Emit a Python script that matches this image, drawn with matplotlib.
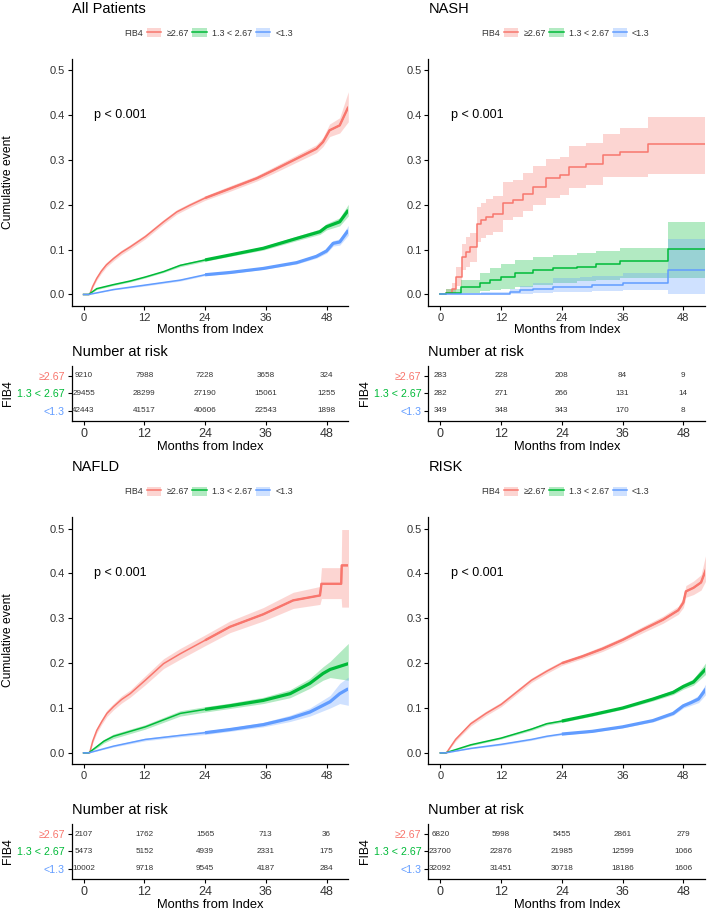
import numpy as np
import matplotlib
matplotlib.use("Agg")
import matplotlib.pyplot as plt
from matplotlib.patches import Patch
from matplotlib.lines import Line2D

plt.rcParams['font.family'] = ['Liberation Sans', 'DejaVu Sans']

# ---------------- data ----------------
groups = ["\u22652.67", "1.3 < 2.67", "<1.3"]
colors = ["#F8766D", "#00BA38", "#619CFF"]
risk_times = [0, 12, 24, 36, 48]
x_ticks = [0, 12, 24, 36, 48]
y_ticks = [0.0, 0.1, 0.2, 0.3, 0.4, 0.5]

# All Patients
all_hi_t = [0, 1.2, 1.8, 2.6, 3.5, 4.5, 5.9, 7.5, 9.2, 12.2, 15.8, 18.4, 21, 24, 28.9, 34.2, 37.5, 42.1, 46, 47.3, 48.6, 50.6, 52.3]
all_hi_v = [0, 0, 0.018, 0.036, 0.052, 0.066, 0.080, 0.094, 0.106, 0.129, 0.162, 0.184, 0.199, 0.215, 0.236, 0.259, 0.277, 0.303, 0.325, 0.340, 0.366, 0.377, 0.418]
all_hi_lo = [0, 0, 0.015, 0.032, 0.047, 0.061, 0.075, 0.089, 0.101, 0.124, 0.157, 0.179, 0.194, 0.210, 0.230, 0.253, 0.270, 0.295, 0.316, 0.330, 0.352, 0.360, 0.385]
all_hi_up = [0, 0, 0.021, 0.040, 0.057, 0.071, 0.085, 0.099, 0.111, 0.134, 0.167, 0.189, 0.204, 0.220, 0.242, 0.265, 0.284, 0.311, 0.334, 0.350, 0.380, 0.394, 0.452]
all_mid_t = [0, 1, 2.6, 5.9, 9.2, 12.2, 15.8, 19.1, 24, 28.9, 35.5, 42.1, 46.7, 48, 50.6, 52.3]
all_mid_v = [0, 0, 0.013, 0.022, 0.030, 0.039, 0.051, 0.065, 0.077, 0.088, 0.103, 0.125, 0.140, 0.151, 0.162, 0.188]
all_mid_lo = [0, 0, 0.011, 0.020, 0.028, 0.037, 0.049, 0.062, 0.074, 0.085, 0.099, 0.120, 0.134, 0.144, 0.153, 0.175]
all_mid_up = [0, 0, 0.015, 0.024, 0.032, 0.041, 0.053, 0.068, 0.080, 0.091, 0.107, 0.130, 0.146, 0.158, 0.171, 0.201]
all_lo_t = [0, 1, 5.9, 12.2, 19.1, 24, 28.9, 35.5, 42.1, 46, 48, 49.3, 50.6, 52.3]
all_lo_v = [0, 0, 0.011, 0.021, 0.032, 0.044, 0.049, 0.058, 0.071, 0.085, 0.097, 0.114, 0.117, 0.143]
all_lo_lo = [0, 0, 0.010, 0.019, 0.030, 0.042, 0.047, 0.056, 0.068, 0.081, 0.092, 0.108, 0.110, 0.132]
all_lo_up = [0, 0, 0.012, 0.023, 0.034, 0.046, 0.051, 0.060, 0.074, 0.089, 0.102, 0.120, 0.124, 0.154]
all_risk = [[9210, 7988, 7228, 3658, 324],
            [29455, 28299, 27190, 15061, 1255],
            [42443, 41517, 40606, 22543, 1898]]

# NASH (step curves)
nash_hi_t = [0, 1.2, 2.2, 3.0, 4.2, 5.0, 5.8, 7.2, 8.0, 9.1, 10.4, 12.4, 14.4, 16.3, 18.3, 20.9, 23.6, 25.5, 28.8, 32.1, 35.4, 41.0, 52.3]
nash_hi_v = [0, 0.004, 0.012, 0.040, 0.084, 0.095, 0.106, 0.158, 0.165, 0.173, 0.180, 0.204, 0.210, 0.224, 0.240, 0.259, 0.266, 0.285, 0.292, 0.311, 0.318, 0.336, 0.336]
nash_hi_lo = [0, 0, 0.002, 0.020, 0.054, 0.062, 0.072, 0.118, 0.125, 0.133, 0.140, 0.166, 0.172, 0.186, 0.200, 0.215, 0.222, 0.238, 0.245, 0.262, 0.262, 0.268, 0.268]
nash_hi_up = [0, 0.012, 0.025, 0.062, 0.112, 0.128, 0.138, 0.195, 0.203, 0.212, 0.220, 0.251, 0.256, 0.270, 0.286, 0.303, 0.307, 0.330, 0.338, 0.358, 0.372, 0.396, 0.396]
nash_mid_t = [0, 1.2, 4.0, 7.8, 9.8, 12.0, 14.7, 18.3, 22.3, 26.9, 30.8, 35.4, 44.9, 52.3]
nash_mid_v = [0, 0.004, 0.017, 0.025, 0.032, 0.039, 0.047, 0.054, 0.058, 0.062, 0.067, 0.074, 0.101, 0.101]
nash_mid_lo = [0, 0, 0.003, 0.007, 0.009, 0.012, 0.017, 0.022, 0.026, 0.029, 0.032, 0.036, 0.036, 0.036]
nash_mid_up = [0, 0.012, 0.032, 0.047, 0.058, 0.069, 0.077, 0.083, 0.088, 0.092, 0.096, 0.103, 0.162, 0.162]
nash_lo_t = [0, 8.0, 13.7, 15.7, 18.3, 22.3, 27.5, 30.0, 36.0, 44.9, 52.3]
nash_lo_v = [0, 0.002, 0.0045, 0.0097, 0.013, 0.016, 0.017, 0.021, 0.026, 0.054, 0.054]
nash_lo_lo = [0, 0, 0, 0.001, 0.003, 0.005, 0.006, 0.008, 0.011, 0.0, 0.0]
nash_lo_up = [0, 0.006, 0.013, 0.020, 0.026, 0.036, 0.038, 0.042, 0.047, 0.123, 0.123]
nash_risk = [[283, 228, 208, 84, 9],
             [282, 271, 266, 131, 14],
             [349, 348, 343, 170, 8]]

# NAFLD
nafld_hi_t = [0, 1.2, 1.8, 2.6, 3.6, 4.6, 5.9, 7.5, 9.2, 12.2, 15.8, 19.1, 24, 28.9, 35.5, 41.4, 46.7, 47.0, 50.9, 51.0, 52.4]
nafld_hi_v = [0, 0, 0.026, 0.050, 0.070, 0.088, 0.103, 0.119, 0.132, 0.162, 0.199, 0.221, 0.251, 0.281, 0.309, 0.340, 0.351, 0.377, 0.377, 0.418, 0.418]
nafld_hi_lo = [0, 0, 0.022, 0.044, 0.064, 0.081, 0.096, 0.111, 0.124, 0.152, 0.188, 0.209, 0.239, 0.268, 0.294, 0.322, 0.331, 0.344, 0.344, 0.325, 0.325]
nafld_hi_up = [0, 0, 0.030, 0.056, 0.076, 0.095, 0.110, 0.127, 0.140, 0.172, 0.210, 0.233, 0.263, 0.294, 0.324, 0.358, 0.371, 0.413, 0.413, 0.498, 0.498]
nafld_mid_t = [0, 1, 2.5, 4.0, 5.9, 12.2, 19.1, 24, 28.9, 35.5, 40.8, 44.7, 47.3, 48.7, 52.3]
nafld_mid_v = [0, 0, 0.013, 0.026, 0.037, 0.058, 0.088, 0.097, 0.105, 0.117, 0.132, 0.155, 0.177, 0.186, 0.199]
nafld_mid_lo = [0, 0, 0.010, 0.022, 0.032, 0.053, 0.082, 0.091, 0.099, 0.110, 0.123, 0.144, 0.162, 0.168, 0.162]
nafld_mid_up = [0, 0, 0.016, 0.030, 0.042, 0.063, 0.094, 0.103, 0.111, 0.124, 0.141, 0.166, 0.192, 0.204, 0.244]
nafld_lo_t = [0, 1, 5.9, 12.2, 19.1, 24, 28.9, 35.5, 40.8, 44.7, 48.7, 50.6, 52.3]
nafld_lo_v = [0, 0, 0.015, 0.030, 0.039, 0.045, 0.052, 0.063, 0.077, 0.091, 0.114, 0.132, 0.143]
nafld_lo_lo = [0, 0, 0.013, 0.027, 0.036, 0.041, 0.048, 0.058, 0.070, 0.082, 0.100, 0.110, 0.106]
nafld_lo_up = [0, 0, 0.017, 0.033, 0.042, 0.049, 0.056, 0.068, 0.084, 0.100, 0.128, 0.155, 0.169]
nafld_risk = [[2107, 1762, 1565, 713, 36],
              [5473, 5152, 4939, 2331, 175],
              [10002, 9718, 9545, 4187, 284]]

# RISK
risk_hi_t = [0, 1.2, 3, 6, 9, 12, 15, 18, 21, 24, 28, 32, 36, 40, 44, 47, 48, 48.5, 50, 51.5, 52.5]
risk_hi_v = [0, 0, 0.030, 0.065, 0.088, 0.108, 0.135, 0.162, 0.182, 0.200, 0.215, 0.232, 0.252, 0.275, 0.297, 0.318, 0.335, 0.360, 0.368, 0.380, 0.410]
risk_hi_lo = [0, 0, 0.026, 0.060, 0.083, 0.103, 0.130, 0.157, 0.177, 0.195, 0.210, 0.226, 0.246, 0.268, 0.289, 0.309, 0.324, 0.347, 0.353, 0.363, 0.385]
risk_hi_up = [0, 0, 0.034, 0.070, 0.093, 0.113, 0.140, 0.167, 0.187, 0.205, 0.220, 0.238, 0.258, 0.282, 0.305, 0.327, 0.346, 0.373, 0.383, 0.397, 0.445]
risk_mid_t = [0, 1, 6, 12, 18, 21, 24, 30, 36, 42, 46, 48, 50, 52.5]
risk_mid_v = [0, 0, 0.018, 0.033, 0.053, 0.065, 0.071, 0.085, 0.100, 0.120, 0.135, 0.148, 0.158, 0.188]
risk_mid_lo = [0, 0, 0.016, 0.031, 0.050, 0.062, 0.068, 0.082, 0.097, 0.116, 0.130, 0.142, 0.151, 0.176]
risk_mid_up = [0, 0, 0.020, 0.035, 0.056, 0.068, 0.074, 0.088, 0.103, 0.124, 0.140, 0.154, 0.165, 0.202]
risk_lo_t = [0, 1, 6, 12, 18, 21, 24, 30, 36, 42, 46, 48, 49.5, 51, 52.5]
risk_lo_v = [0, 0, 0.010, 0.019, 0.030, 0.037, 0.042, 0.048, 0.058, 0.072, 0.088, 0.105, 0.112, 0.120, 0.143]
risk_lo_lo = [0, 0, 0.009, 0.017, 0.028, 0.035, 0.040, 0.046, 0.056, 0.069, 0.084, 0.100, 0.106, 0.112, 0.131]
risk_lo_up = [0, 0, 0.011, 0.021, 0.032, 0.039, 0.044, 0.050, 0.060, 0.075, 0.092, 0.110, 0.118, 0.128, 0.155]
risk_risk = [[6820, 5998, 5455, 2861, 279],
             [23700, 22876, 21985, 12599, 1066],
             [32092, 31451, 30718, 18186, 1606]]

panels = [
    dict(title="All Patients", step=False,
         curves=[(all_hi_t, all_hi_v, all_hi_lo, all_hi_up),
                 (all_mid_t, all_mid_v, all_mid_lo, all_mid_up),
                 (all_lo_t, all_lo_v, all_lo_lo, all_lo_up)],
         risk=all_risk),
    dict(title="NASH", step=True,
         curves=[(nash_hi_t, nash_hi_v, nash_hi_lo, nash_hi_up),
                 (nash_mid_t, nash_mid_v, nash_mid_lo, nash_mid_up),
                 (nash_lo_t, nash_lo_v, nash_lo_lo, nash_lo_up)],
         risk=nash_risk),
    dict(title="NAFLD", step=False,
         curves=[(nafld_hi_t, nafld_hi_v, nafld_hi_lo, nafld_hi_up),
                 (nafld_mid_t, nafld_mid_v, nafld_mid_lo, nafld_mid_up),
                 (nafld_lo_t, nafld_lo_v, nafld_lo_lo, nafld_lo_up)],
         risk=nafld_risk),
    dict(title="RISK", step=False,
         curves=[(risk_hi_t, risk_hi_v, risk_hi_lo, risk_hi_up),
                 (risk_mid_t, risk_mid_v, risk_mid_lo, risk_mid_up),
                 (risk_lo_t, risk_lo_v, risk_lo_lo, risk_lo_up)],
         risk=risk_risk),
]

# ---------------- layout ----------------
W, H = 709, 910
fig = plt.figure(figsize=(W / 100, H / 100), dpi=100)
TXT = "#333333"
censor_lw = [1.7, 2.3, 2.3]


def add_ax(x0, y0, x1, y1):
    return fig.add_axes([x0 / W, 1 - y1 / H, (x1 - x0) / W, (y1 - y0) / H])


def style_axis(ax):
    for s in ["top", "right"]:
        ax.spines[s].set_visible(False)
    for s in ["left", "bottom"]:
        ax.spines[s].set_linewidth(0.9)
        ax.spines[s].set_color("black")
    ax.tick_params(direction="out", length=3, width=0.8, color="black",
                   labelcolor=TXT, pad=2)


offsets = [(0, 0), (356.8, 0), (0, 458.4), (356.8, 458.4)]
XL = (-2.35, 52.3)

for i, (p, (dx, dy)) in enumerate(zip(panels, offsets)):
    L, R = 71.7 + dx, 348.3 + dx
    ax = add_ax(L, 59 + dy, R, 305.7 + dy)
    style_axis(ax)
    ax.set_xlim(*XL)
    ax.set_ylim(-0.025, 0.525)
    ax.set_xticks(x_ticks)
    ax.set_yticks(y_ticks)
    ax.set_yticklabels([f"{v:.1f}" for v in y_ticks])
    ax.tick_params(labelsize=8)
    for (t, v, lo, up), c, clw in zip(p["curves"], colors, censor_lw):
        t = np.asarray(t); v = np.asarray(v)
        if p["step"]:
            ax.fill_between(t, lo, up, step="post", color=c, alpha=0.3, lw=0)
            ax.plot(t, v, drawstyle="steps-post", color=c, lw=1.1)
        else:
            ax.fill_between(t, lo, up, color=c, alpha=0.3, lw=0)
            ax.plot(t, v, color=c, lw=1.1)
            m = t >= 24
            ax.plot(t[m], v[m], color=c, lw=clw, solid_capstyle="butt")
    ax.text(2.0, 0.4, "p < 0.001", fontsize=9, color="black", ha="left", va="center")
    if i in (0, 1):
        ax.set_xlabel("Months from Index", fontsize=9.3, color="black", labelpad=1)
    if i in (0, 2):
        fig.text(8 / W, 1 - (182 + dy) / H, "Cumulative event", rotation=90,
                 fontsize=8.7, ha="center", va="center")

    # title
    fig.text(L / W, 1 - (9 + dy) / H, p["title"], fontsize=10.5, ha="left", va="center")

    # legend
    fig.text((143 + dx) / W, 1 - (33 + dy) / H, "FIB4", fontsize=6.4,
             ha="right", va="center", color=TXT)
    handles = [(Patch(facecolor=c, alpha=0.3, lw=0), Line2D([], [], color=c, lw=1.1))
               for c in colors]
    fig.legend(handles, groups, loc="center left",
               bbox_to_anchor=((147 + dx) / W, 1 - (33 + dy) / H),
               frameon=False, fontsize=6.4, ncol=3, borderpad=0, borderaxespad=0,
               handlelength=1.6, handleheight=1.15, handletextpad=0.6,
               columnspacing=0.4, labelcolor=TXT)

    # risk table
    fig.text(L / W, 1 - (352 + dy) / H, "Number at risk", fontsize=10.5,
             ha="left", va="center")
    rax = add_ax(L, 366 + dy, R, 420.7 + dy)
    style_axis(rax)
    rax.set_xlim(*XL)
    rax.set_ylim(0.42, 3.55)
    rax.set_xticks(x_ticks)
    rax.tick_params(axis="x", labelsize=9)
    rax.set_yticks([3, 2, 1])
    rax.set_yticklabels(groups, fontsize=7.7)
    for lab, c in zip(rax.get_yticklabels(), colors):
        lab.set_color(c)
    for row, yv in zip(p["risk"], [3, 2, 1]):
        for tt, n in zip(risk_times, row):
            rax.text(tt, yv, str(n), fontsize=5.9, ha="center", va="center", color=TXT)
    rax.set_xlabel("Months from Index", fontsize=9.3, color="black", labelpad=1)
    fig.text(8 / W + dx / W, 1 - (393 + dy) / H, "FIB4", rotation=90,
             fontsize=8.8, ha="center", va="center")

fig.savefig("out.png", dpi=100)
